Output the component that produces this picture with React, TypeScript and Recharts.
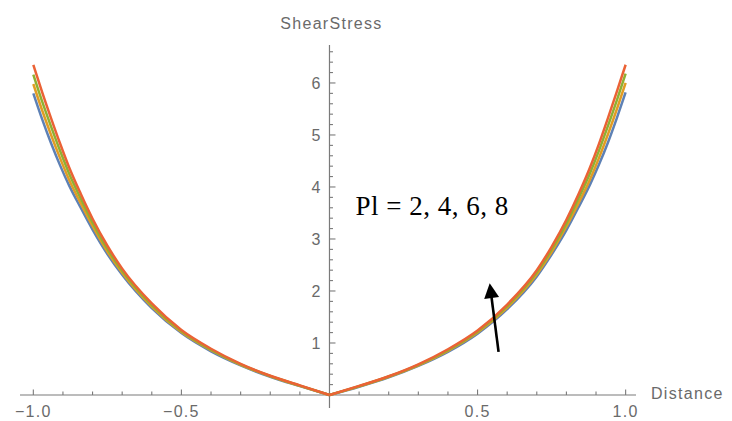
import React from "react";
import { LineChart, Line, XAxis, YAxis, ReferenceLine, ReferenceDot } from "recharts";

// Distance across the channel
const distance = [
  -1, -0.97, -0.94, -0.91, -0.88, -0.84, -0.8, -0.75, -0.7, -0.6, -0.5, -0.4, -0.3, -0.2, -0.1,
  0,
  0.1, 0.2, 0.3, 0.4, 0.5, 0.6, 0.7, 0.75, 0.8, 0.84, 0.88, 0.91, 0.94, 0.97, 1,
];

// Shear stress for Pl = 2, 4, 6, 8
const stressPl2 = [
  5.8, 5.3, 4.84, 4.42, 4.04, 3.6, 3.18, 2.71, 2.31, 1.67, 1.19, 0.84, 0.57, 0.35, 0.17,
  0,
  0.16, 0.34, 0.56, 0.83, 1.18, 1.65, 2.28, 2.7, 3.17, 3.6, 4.05, 4.43, 4.85, 5.32, 5.82,
];
const stressPl4 = [
  5.98, 5.47, 5.0, 4.56, 4.15, 3.69, 3.25, 2.76, 2.35, 1.7, 1.21, 0.86, 0.58, 0.36, 0.175,
  0,
  0.165, 0.35, 0.57, 0.85, 1.2, 1.68, 2.32, 2.75, 3.24, 3.68, 4.15, 4.56, 5.01, 5.49, 6.0,
];
const stressPl6 = [
  6.16, 5.64, 5.16, 4.7, 4.27, 3.78, 3.32, 2.81, 2.39, 1.73, 1.23, 0.87, 0.59, 0.365, 0.18,
  0,
  0.17, 0.355, 0.58, 0.86, 1.22, 1.71, 2.36, 2.8, 3.3, 3.77, 4.27, 4.7, 5.17, 5.66, 6.18,
];
const stressPl8 = [
  6.35, 5.82, 5.32, 4.84, 4.39, 3.87, 3.39, 2.87, 2.43, 1.76, 1.25, 0.89, 0.6, 0.37, 0.185,
  0,
  0.175, 0.36, 0.59, 0.88, 1.24, 1.74, 2.4, 2.85, 3.37, 3.85, 4.38, 4.83, 5.32, 5.83, 6.35,
];

const xMinorTicks = [
  -1, -0.9, -0.8, -0.7, -0.6, -0.5, -0.4, -0.3, -0.2, -0.1,
  0.1, 0.2, 0.3, 0.4, 0.5, 0.6, 0.7, 0.8, 0.9, 1,
];
const xMajorTicks = [-1, -0.5, 0.5, 1];
const xTickLabels = ["\u22121.0", "\u22120.5", "0.5", "1.0"];

const yMinorTicks = [
  0.2, 0.4, 0.6, 0.8, 1, 1.2, 1.4, 1.6, 1.8, 2, 2.2, 2.4, 2.6, 2.8, 3, 3.2, 3.4, 3.6, 3.8, 4,
  4.2, 4.4, 4.6, 4.8, 5, 5.2, 5.4, 5.6, 5.8, 6, 6.2, 6.4, 6.6,
];
const yMajorTicks = [1, 2, 3, 4, 5, 6];
const yTickLabels = ["1", "2", "3", "4", "5", "6"];

const seriesNames = ["pl2", "pl4", "pl6", "pl8"];
const seriesValues = [stressPl2, stressPl4, stressPl6, stressPl8];
const seriesColors = ["#5E81B5", "#E19C24", "#8FB032", "#EB6235"];

const annotation = "Pl = 2, 4, 6, 8";
const xTitle = "Distance";
const yTitle = "ShearStress";

// Each curve has a sharp corner at the centre, so split it into a left and a right branch
const rows = distance.map((x, i) => {
  const row: Record<string, number> = { x };
  seriesNames.forEach((name, s) => {
    if (x <= 0) row[name + "L"] = seriesValues[s][i];
    if (x >= 0) row[name + "R"] = seriesValues[s][i];
  });
  return row;
});

const X_DOMAIN: [number, number] = [-1.045, 1.035];
const Y_DOMAIN: [number, number] = [-0.25, 6.73];

const axisColor = "#7a7a7a";
const labelColor = "#6a6a6a";
const labelFont = "'Liberation Sans', Arial, sans-serif";

const labelStyle = {
  fontFamily: labelFont,
  fontSize: 16,
  letterSpacing: 1.3,
  fill: labelColor,
};

export default function App() {
  return (
    <div style={{ position: "absolute", left: 0, top: 0, background: "#fff" }}>
      <LineChart
        width={732}
        height={421}
        data={rows}
        margin={{ top: 45, right: 96, bottom: 13, left: 20 }}
      >
        <XAxis type="number" dataKey="x" domain={X_DOMAIN} allowDataOverflow hide />
        <YAxis type="number" domain={Y_DOMAIN} allowDataOverflow hide />

        {/* horizontal axis through the origin */}
        <ReferenceLine
          y={0}
          stroke={axisColor}
          shape={(p: any) => {
            const right = Math.max(p.x1, p.x2);
            return (
              <g>
                <line x1={p.x1} y1={p.y1} x2={p.x2} y2={p.y2} stroke={axisColor} strokeWidth={1.2} />
                <text x={right + 15} y={p.y1 + 4} style={labelStyle}>
                  {xTitle}
                </text>
              </g>
            );
          }}
        />

        {/* vertical axis through the origin */}
        <ReferenceLine
          x={0}
          stroke={axisColor}
          shape={(p: any) => {
            const top = Math.min(p.y1, p.y2);
            return (
              <g>
                <line x1={p.x1} y1={p.y1} x2={p.x2} y2={p.y2} stroke={axisColor} strokeWidth={1.2} />
                <text x={p.x1 + 2} y={top - 16} textAnchor="middle" style={labelStyle}>
                  {yTitle}
                </text>
              </g>
            );
          }}
        />

        {xMinorTicks.map((t) => {
          const major = xMajorTicks.indexOf(t);
          return (
            <ReferenceLine
              key={"xt" + t}
              segment={[{ x: t, y: 0 }, { x: t, y: 1 }]}
              shape={(p: any) => {
                const base = Math.max(p.y1, p.y2);
                const len = major >= 0 ? 5.5 : 3.5;
                return (
                  <g>
                    <line x1={p.x1} y1={base} x2={p.x1} y2={base - len} stroke={axisColor} strokeWidth={1.1} />
                    {major >= 0 && (
                      <text x={p.x1} y={base + 22} textAnchor="middle" style={labelStyle}>
                        {xTickLabels[major]}
                      </text>
                    )}
                  </g>
                );
              }}
            />
          );
        })}

        {yMinorTicks.map((t) => {
          const major = yMajorTicks.indexOf(t);
          return (
            <ReferenceLine
              key={"yt" + t}
              segment={[{ x: 0, y: t }, { x: 0.5, y: t }]}
              shape={(p: any) => {
                const base = Math.min(p.x1, p.x2);
                const len = major >= 0 ? 6 : 3.5;
                return (
                  <g>
                    <line x1={base} y1={p.y1} x2={base + len} y2={p.y1} stroke={axisColor} strokeWidth={1.1} />
                    {major >= 0 && (
                      <text x={base - 9} y={p.y1 + 6} textAnchor="end" style={{ ...labelStyle, letterSpacing: 0 }}>
                        {yTickLabels[major]}
                      </text>
                    )}
                  </g>
                );
              }}
            />
          );
        })}

        {seriesNames.map((name, s) =>
          ["L", "R"].map((side) => (
            <Line
              key={name + side}
              dataKey={name + side}
              type="monotone"
              stroke={seriesColors[s]}
              strokeWidth={2.5}
              dot={false}
              activeDot={false}
              connectNulls={false}
              isAnimationActive={false}
            />
          ))
        )}

        {/* arrow pointing in the direction of increasing Pl */}
        <ReferenceLine
          segment={[{ x: 0.571, y: 0.83 }, { x: 0.541, y: 2.15 }]}
          shape={(p: any) => {
            const dx = p.x2 - p.x1;
            const dy = p.y2 - p.y1;
            const L = Math.hypot(dx, dy) || 1;
            const ux = dx / L;
            const uy = dy / L;
            const head = 15;
            const half = 7.5;
            const bx = p.x2 - ux * head;
            const by = p.y2 - uy * head;
            const pts = [
              [p.x2, p.y2],
              [bx - uy * half, by + ux * half],
              [bx + uy * half, by - ux * half],
            ]
              .map((q) => q.join(","))
              .join(" ");
            return (
              <g>
                <line x1={p.x1} y1={p.y1} x2={bx + ux * 2} y2={by + uy * 2} stroke="#000" strokeWidth={2.6} />
                <polygon points={pts} fill="#000" />
              </g>
            );
          }}
        />

        <ReferenceDot
          x={0.088}
          y={3.46}
          r={0}
          shape={(p: any) => (
            <text
              x={p.cx}
              y={p.cy}
              style={{
                fontFamily: "'Liberation Serif', 'DejaVu Serif', serif",
                fontSize: 27,
                letterSpacing: 0.5,
                fill: "#000",
              }}
            >
              {annotation}
            </text>
          )}
        />
      </LineChart>
    </div>
  );
}
